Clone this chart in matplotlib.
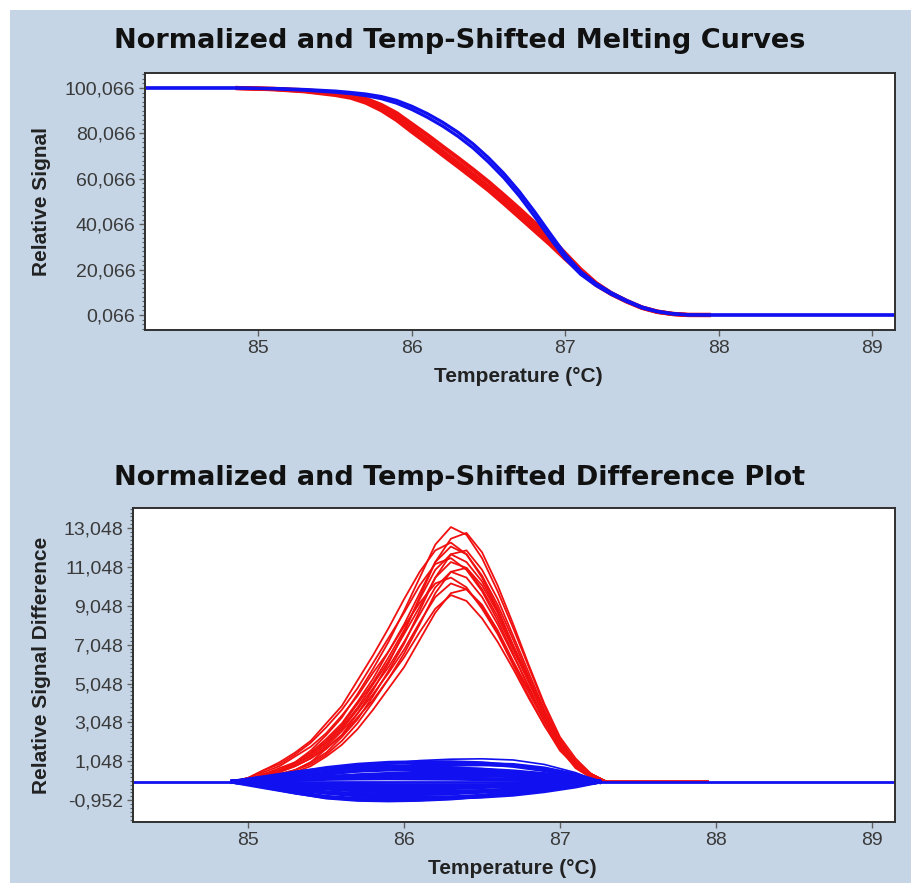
import matplotlib
matplotlib.use("Agg")
import matplotlib.pyplot as plt
from matplotlib.patches import Rectangle
from matplotlib.ticker import FixedLocator, FuncFormatter

# ---- top panel: normalized melting curves ----
melt_temp = [84.26, 84.85, 85.1, 85.3, 85.5, 85.6, 85.7, 85.8, 85.9, 86.0,
             86.1, 86.2, 86.3, 86.4, 86.5, 86.6, 86.7, 86.8, 86.9, 87.0,
             87.1, 87.2, 87.3, 87.4, 87.5, 87.6, 87.7, 87.8, 87.95, 89.16]
melt_blue = [
    [100.07, 100.07, 99.85, 99.4, 98.7, 98.1, 97.4, 96.3, 94.6, 92.0,
     88.8, 85.0, 80.6, 75.4, 69.3, 62.4, 54.5, 45.6, 36.1, 26.8,
     19.3, 14.0, 9.9, 6.5, 3.6, 1.7, 0.7, 0.2, 0.07, 0.07],
    [100.07, 100.07, 99.7, 99.1, 98.2, 97.6, 96.7, 95.4, 93.4, 90.6,
     87.2, 83.3, 78.8, 73.6, 67.4, 60.5, 52.5, 43.5, 34.0, 24.9,
     18.0, 13.1, 9.2, 6.0, 3.2, 1.5, 0.5, 0.07, 0.07, 0.07],
]
# red samples only span 84.85 .. 87.95
melt_red = [
    [100.07, 99.7, 99.1, 98.0, 97.0, 95.3, 92.6, 89.0, 84.2, 79.4,
     74.3, 69.3, 64.1, 58.7, 52.9, 46.9, 40.7, 34.3, 27.2, 20.2,
     14.2, 9.7, 6.3, 3.4, 1.6, 0.6, 0.1, 0.07],
    [100.07, 99.6, 98.8, 97.4, 96.3, 94.3, 91.3, 87.3, 82.2, 77.3,
     72.1, 67.1, 61.9, 56.5, 50.8, 44.8, 38.7, 32.5, 25.8, 19.3,
     13.7, 9.5, 6.1, 3.3, 1.5, 0.5, 0.07, 0.07],
    [100.07, 99.5, 98.6, 97.0, 95.8, 93.6, 90.3, 86.0, 80.8, 75.8,
     70.6, 65.5, 60.3, 55.0, 49.2, 43.2, 37.2, 31.2, 24.8, 18.8,
     13.4, 9.3, 6.0, 3.2, 1.4, 0.5, 0.07, 0.07],
]
melt_yticks = [0.066, 20.066, 40.066, 60.066, 80.066, 100.066]

# ---- bottom panel: difference plot ----
diff_red_temp = [84.9, 85.0, 85.1, 85.2, 85.3, 85.4, 85.5, 85.6, 85.7, 85.8,
                 85.9, 86.0, 86.1, 86.2, 86.3, 86.4, 86.5, 86.6, 86.7, 86.8,
                 86.9, 87.0, 87.1, 87.2, 87.3, 87.95]
diff_red = [
    [0, 0.1, 0.4, 0.7, 1.0, 1.6, 2.4, 3.3, 4.5, 5.8, 7.2, 8.8, 10.5, 12.2, 13.1, 12.7, 11.5, 9.8, 7.9, 5.9, 3.9, 2.2, 1.0, 0.4, 0, 0],
    [0, 0, 0.1, 0.4, 0.6, 1.0, 1.7, 2.4, 3.5, 4.7, 6.1, 7.7, 9.5, 11.3, 12.5, 12.8, 11.8, 10.1, 8.1, 6.0, 4.0, 2.3, 1.2, 0.4, 0, 0],
    [0, 0.2, 0.6, 1.0, 1.5, 2.1, 3.0, 3.9, 5.2, 6.5, 7.9, 9.4, 10.8, 11.9, 12.3, 11.7, 10.5, 8.9, 7.0, 5.2, 3.4, 2.0, 0.9, 0.2, 0, 0],
    [0, 0.1, 0.4, 0.6, 1.0, 1.5, 2.2, 3.0, 4.1, 5.3, 6.7, 8.1, 9.7, 11.3, 12.1, 11.7, 10.6, 9.1, 7.3, 5.4, 3.6, 2.1, 1.0, 0.4, 0, 0],
    [0, 0, 0.1, 0.4, 0.6, 1.0, 1.5, 2.3, 3.2, 4.4, 5.7, 7.1, 8.8, 10.5, 11.7, 11.9, 10.9, 9.4, 7.5, 5.6, 3.7, 2.1, 1.1, 0.4, 0, 0],
    [0, 0.1, 0.4, 0.6, 0.9, 1.4, 2.1, 2.9, 4.0, 5.1, 6.4, 7.8, 9.4, 10.9, 11.7, 11.3, 10.3, 8.8, 7.0, 5.3, 3.5, 2.0, 0.9, 0.4, 0, 0],
    [0, 0.2, 0.6, 0.9, 1.4, 2.0, 2.8, 3.7, 4.8, 6.1, 7.4, 8.7, 10.1, 11.2, 11.5, 10.9, 9.8, 8.3, 6.6, 4.8, 3.2, 1.8, 0.8, 0.2, 0, 0],
    [0, 0.1, 0.3, 0.6, 0.9, 1.4, 2.0, 2.8, 3.8, 5.0, 6.2, 7.6, 9.0, 10.5, 11.3, 11.0, 9.9, 8.5, 6.8, 5.1, 3.4, 1.9, 0.9, 0.3, 0, 0],
    [0, 0, 0.1, 0.3, 0.6, 0.9, 1.4, 2.1, 3.0, 4.1, 5.3, 6.6, 8.1, 9.7, 10.8, 11.0, 10.1, 8.7, 6.9, 5.2, 3.4, 2.0, 1.0, 0.3, 0, 0],
    [0, 0.1, 0.3, 0.5, 0.9, 1.3, 1.9, 2.7, 3.7, 4.8, 5.9, 7.2, 8.6, 10.0, 10.8, 10.5, 9.5, 8.1, 6.5, 4.9, 3.2, 1.8, 0.9, 0.3, 0, 0],
    [0, 0.2, 0.5, 0.8, 1.3, 1.8, 2.5, 3.4, 4.4, 5.6, 6.7, 8.0, 9.2, 10.2, 10.5, 10.0, 8.9, 7.6, 6.0, 4.4, 2.9, 1.7, 0.7, 0.2, 0, 0],
    [0, 0.1, 0.3, 0.5, 0.8, 1.2, 1.8, 2.6, 3.5, 4.5, 5.6, 6.8, 8.2, 9.5, 10.2, 9.9, 9.0, 7.7, 6.1, 4.6, 3.1, 1.7, 0.8, 0.3, 0, 0],
    [0, 0, 0.1, 0.3, 0.5, 0.8, 1.3, 1.9, 2.7, 3.7, 4.8, 5.9, 7.3, 8.7, 9.7, 9.9, 9.1, 7.8, 6.2, 4.7, 3.1, 1.8, 0.9, 0.3, 0, 0],
    [0, 0.1, 0.3, 0.5, 0.8, 1.2, 1.7, 2.4, 3.3, 4.2, 5.3, 6.4, 7.7, 8.9, 9.6, 9.3, 8.4, 7.2, 5.8, 4.3, 2.9, 1.6, 0.8, 0.3, 0, 0],
]
diff_blue_temp = [84.9, 85.1, 85.3, 85.5, 85.7, 85.9, 86.1, 86.3, 86.5, 86.7, 86.9, 87.1, 87.25]
diff_blue = [
    [0, 0.12, 0.3, 0.53, 0.77, 0.94, 1.09, 1.16, 1.18, 1.12, 0.89, 0.47, 0],
    [0, 0.2, 0.45, 0.7, 0.87, 0.97, 1.0, 1.0, 0.95, 0.82, 0.6, 0.3, 0],
    [0, 0.09, 0.23, 0.41, 0.59, 0.72, 0.83, 0.88, 0.9, 0.86, 0.68, 0.36, 0],
    [0, 0.23, 0.47, 0.66, 0.76, 0.78, 0.76, 0.7, 0.61, 0.47, 0.31, 0.14, 0],
    [0, 0.13, 0.29, 0.46, 0.57, 0.63, 0.65, 0.65, 0.62, 0.53, 0.39, 0.2, 0],
    [0, 0.05, 0.13, 0.23, 0.33, 0.4, 0.46, 0.49, 0.5, 0.48, 0.38, 0.2, 0],
    [0, 0.07, 0.16, 0.25, 0.3, 0.34, 0.35, 0.35, 0.33, 0.29, 0.21, 0.11, 0],
    [0, 0.05, 0.11, 0.15, 0.17, 0.18, 0.17, 0.16, 0.14, 0.11, 0.07, 0.03, 0],
    [0, -0.04, -0.09, -0.14, -0.17, -0.19, -0.2, -0.2, -0.19, -0.16, -0.12, -0.06, 0],
    [0, -0.11, -0.21, -0.3, -0.34, -0.35, -0.34, -0.32, -0.27, -0.21, -0.14, -0.06, 0],
    [0, -0.1, -0.23, -0.35, -0.44, -0.49, -0.5, -0.5, -0.48, -0.41, -0.3, -0.15, 0],
    [0, -0.2, -0.39, -0.55, -0.63, -0.65, -0.63, -0.59, -0.51, -0.39, -0.26, -0.12, 0],
    [0, -0.16, -0.36, -0.56, -0.7, -0.78, -0.8, -0.8, -0.76, -0.66, -0.48, -0.24, 0],
    [0, -0.28, -0.55, -0.78, -0.89, -0.92, -0.89, -0.83, -0.72, -0.55, -0.37, -0.17, 0],
    [0, -0.31, -0.61, -0.87, -0.99, -1.02, -0.99, -0.92, -0.8, -0.61, -0.41, -0.18, 0],
]
diff_base_temp = [84.26, 89.16]
diff_base = [0, 0]
diff_yticks = [-0.952, 1.048, 3.048, 5.048, 7.048, 9.048, 11.048, 13.048]

xticks = [85, 86, 87, 88, 89]
titles = ["Normalized and Temp-Shifted Melting Curves",
          "Normalized and Temp-Shifted Difference Plot"]
ylabels = ["Relative Signal", "Relative Signal Difference"]
xlabel = "Temperature (\u00b0C)"

BG = "#c5d5e6"
RED = "#f01010"
BLUE = "#1010f0"
W, H = 911, 883

fig = plt.figure(figsize=(W / 100, H / 100), dpi=100, facecolor="white")
fig.patches.append(Rectangle((10 / W, 0), 1, (H - 10) / H, transform=fig.transFigure,
                             facecolor=BG, edgecolor="none", zorder=-10))

comma_fmt = FuncFormatter(lambda v, p: f"{v:.3f}".replace(".", ","))


def style_axes(ax, yticks, minor_step, ylim):
    ax.set_facecolor("white")
    ax.set_xlim(84.26, 89.15)
    ax.set_ylim(*ylim)
    for s in ax.spines.values():
        s.set_color("#303030")
        s.set_linewidth(1.4)
    ax.xaxis.set_major_locator(FixedLocator(xticks))
    ax.yaxis.set_major_locator(FixedLocator(yticks))
    minors = []
    v = yticks[0] - minor_step * 5
    while v < ylim[1]:
        minors.append(v)
        v += minor_step
    ax.yaxis.set_minor_locator(FixedLocator(minors))
    ax.yaxis.set_major_formatter(comma_fmt)
    ax.tick_params(axis="both", which="major", direction="out", length=4, width=1,
                   color="#606060", labelsize=14, labelcolor="#3a3a3a", pad=3)
    ax.tick_params(axis="y", which="minor", direction="out", length=2, width=0.8,
                   color="#606060")
    for lab in ax.get_xticklabels() + ax.get_yticklabels():
        lab.set_family("Liberation Sans")


# top panel
ax1 = fig.add_axes([145 / W, 1 - 330 / H, 750 / W, 257 / H])
for curve in melt_red:
    ax1.plot(melt_temp[1:-1], curve, color=RED, lw=3.0, solid_capstyle="butt")
for curve in melt_blue:
    ax1.plot(melt_temp, curve, color=BLUE, lw=2.3, solid_capstyle="butt")
style_axes(ax1, melt_yticks, 2.0, (-6.54, 106.67))

# bottom panel
ax2 = fig.add_axes([133 / W, 1 - 822 / H, 762 / W, 314 / H])
for curve in diff_red:
    ax2.plot(diff_red_temp, curve, color=RED, lw=1.3)
ax2.plot(diff_base_temp, diff_base, color=BLUE, lw=2.0)
for i, curve in enumerate(diff_blue):
    lw = 1.2 if i in (0, len(diff_blue) - 1) else 3.0
    ax2.plot(diff_blue_temp, curve, color=BLUE, lw=lw)
style_axes(ax2, diff_yticks, 0.2, (-2.07, 14.08))

# titles and labels
fig.text(460 / W, 1 - 41 / H, titles[0], ha="center", va="center",
         fontsize=19.5, fontweight="heavy", family="DejaVu Sans", color="#111111")
fig.text(460 / W, 1 - 478 / H, titles[1], ha="center", va="center",
         fontsize=19.5, fontweight="heavy", family="DejaVu Sans", color="#111111")
fig.text(42 / W, 1 - 201 / H, ylabels[0], rotation=90, ha="center", va="center",
         fontsize=15, fontweight="bold", family="Liberation Sans", color="#222222")
fig.text(42 / W, 1 - 665 / H, ylabels[1], rotation=90, ha="center", va="center",
         fontsize=15, fontweight="bold", family="Liberation Sans", color="#222222")
fig.text(518 / W, 1 - 376 / H, xlabel, ha="center", va="center",
         fontsize=15, fontweight="bold", family="Liberation Sans", color="#222222")
fig.text(512 / W, 1 - 868 / H, xlabel, ha="center", va="center",
         fontsize=15, fontweight="bold", family="Liberation Sans", color="#222222")

fig.savefig("out.png", dpi=100, facecolor=fig.get_facecolor())
